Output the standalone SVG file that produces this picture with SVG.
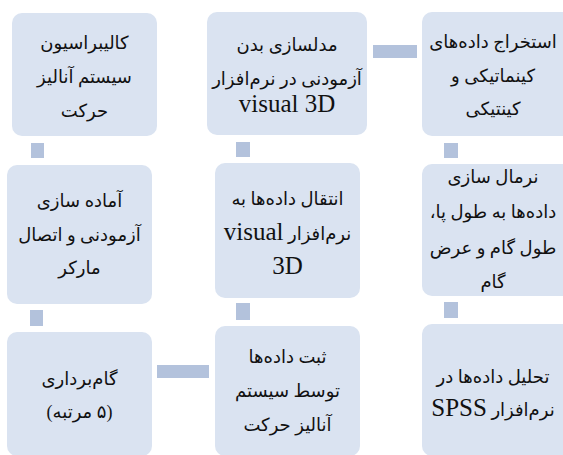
<svg xmlns="http://www.w3.org/2000/svg" width="563" height="455" viewBox="0 0 563 455">
  <style>
    .box { fill: #dae3f1; }
    .link { fill: #b3c2dc; }
    .t { font-family: "Liberation Serif", "DejaVu Sans", serif; font-size: 18px; fill: #111; text-anchor: middle; direction: rtl; unicode-bidi: embed; }
    .lat { font-family: "Liberation Serif", serif; font-size: 25px; }
  </style>
  <rect width="563" height="455" fill="#ffffff"/>

  <!-- connectors between steps -->
  <g id="connectors">
    <rect class="link" x="31" y="143" width="13" height="15"/>
    <rect class="link" x="236" y="142" width="14" height="15"/>
    <rect class="link" x="373" y="45" width="44" height="13"/>
    <rect class="link" x="444" y="143" width="14" height="15"/>
    <rect class="link" x="30" y="310" width="13" height="16"/>
    <rect class="link" x="236" y="303" width="14" height="17"/>
    <rect class="link" x="444" y="302" width="14" height="16"/>
    <rect class="link" x="157" y="365" width="52" height="13"/>
  </g>

  <g id="calibration">
    <rect class="box" x="12" y="13" width="145" height="123" rx="10"/>
    <text class="t" x="84.5" y="49">کالیبراسیون</text>
    <text class="t" x="84.5" y="83">سیستم آنالیز</text>
    <text class="t" x="84.5" y="117">حرکت</text>
  </g>

  <g id="modeling">
    <rect class="box" x="207" y="12" width="160" height="123" rx="10"/>
    <text class="t" x="287" y="51">مدلسازی بدن</text>
    <text class="t" x="287" y="85">آزمودنی در نرم&#x200C;افزار</text>
    <text class="t lat" x="287" y="112" style="direction:ltr">visual 3D</text>
  </g>

  <g id="extraction">
    <rect class="box" x="422" y="12" width="150" height="124" rx="10"/>
    <text class="t" x="493" y="48">استخراج داده&#x200C;های</text>
    <text class="t" x="493" y="82">کینماتیکی و</text>
    <text class="t" x="493" y="115">کینتیکی</text>
  </g>

  <g id="preparation">
    <rect class="box" x="7" y="165" width="145" height="139" rx="10"/>
    <text class="t" x="79.5" y="207">آماده سازی</text>
    <text class="t" x="79.5" y="241">آزمودنی و اتصال</text>
    <text class="t" x="79.5" y="274">مارکر</text>
  </g>

  <g id="transfer">
    <rect class="box" x="215" y="163" width="145" height="135" rx="10"/>
    <text class="t" x="287.5" y="205">انتقال داده&#x200C;ها به</text>
    <text class="t" x="287.5" y="240">نرم&#x200C;افزار <tspan class="lat">visual</tspan></text>
    <text class="t lat" x="287.5" y="274" style="direction:ltr">3D</text>
  </g>

  <g id="normalization">
    <rect class="box" x="422" y="164" width="150" height="132" rx="10"/>
    <text class="t" x="493" y="183">نرمال سازی</text>
    <text class="t" x="493" y="218">داده&#x200C;ها به طول پا،</text>
    <text class="t" x="493" y="254">طول گام و عرض</text>
    <text class="t" x="493" y="288">گام</text>
  </g>

  <g id="walking">
    <rect class="box" x="7" y="332" width="145" height="124" rx="10"/>
    <text class="t" x="79.5" y="385">گام&#x200C;برداری</text>
    <text class="t" x="79.5" y="418">(۵ مرتبه)</text>
  </g>

  <g id="recording">
    <rect class="box" x="215" y="326" width="145" height="130" rx="10"/>
    <text class="t" x="287.5" y="363">ثبت داده&#x200C;ها</text>
    <text class="t" x="287.5" y="397">توسط سیستم</text>
    <text class="t" x="287.5" y="431">آنالیز حرکت</text>
  </g>

  <g id="analysis">
    <rect class="box" x="422" y="324" width="150" height="132" rx="10"/>
    <text class="t" x="493" y="383">تحلیل داده&#x200C;ها در</text>
    <text class="t" x="493" y="416">نرم&#x200C;افزار <tspan class="lat">SPSS</tspan></text>
  </g>
</svg>
